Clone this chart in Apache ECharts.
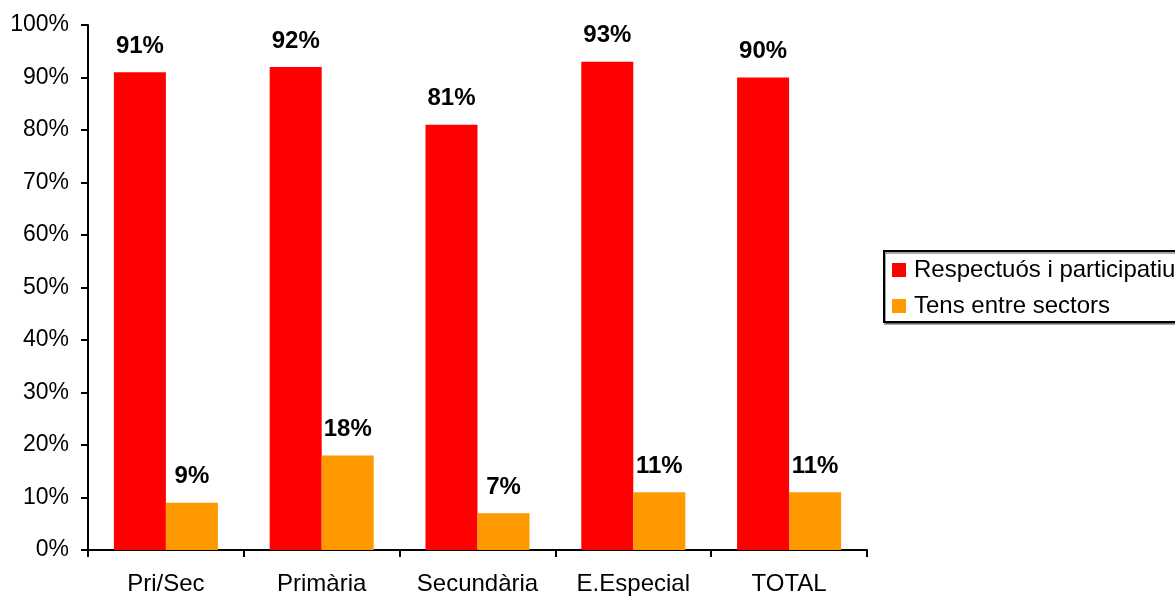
<!DOCTYPE html>
<html>
<head>
<meta charset="utf-8">
<script src="https://cdn.jsdelivr.net/npm/echarts@6/dist/echarts.min.js"></script>
<style>
html,body{margin:0;padding:0;background:#fff;}
#chart{width:1175px;height:596px;}
</style>
</head>
<body>
<div id="chart"></div>
<script>
var categories = ['Pri/Sec', 'Primària', 'Secundària', 'E.Especial', 'TOTAL'];
var seriesNames = ['Respectuós i participatiu', 'Tens entre sectors'];
var respectuos = [91, 92, 81, 93, 90];
var tens = [9, 18, 7, 11, 11];
var colors = ['#ff0000', '#ff9900'];

var chart = echarts.init(document.getElementById('chart'), null, {renderer: 'canvas'});
var font = 'Arial, "Liberation Sans", sans-serif';
function labelCfg() {
  return {
    show: true,
    position: 'top',
    distance: 14,
    formatter: '{c}%',
    color: '#000',
    fontFamily: font,
    fontWeight: 'bold',
    fontSize: 24
  };
}
chart.setOption({
  animation: false,
  backgroundColor: '#fff',
  grid: {left: 88, right: 308, top: 25, bottom: 45},
  legend: {
    orient: 'vertical',
    left: 884,
    top: 251,
    itemWidth: 14,
    itemHeight: 14,
    itemGap: 12,
    icon: 'rect',
    padding: [7, 30, 4, 8],
    borderColor: '#000',
    borderWidth: 2,
    borderRadius: 0,
    backgroundColor: '#fff',
    shadowColor: 'rgba(0,0,0,0.35)',
    shadowOffsetX: 1,
    shadowOffsetY: 2,
    shadowBlur: 0,
    textStyle: {color: '#000', fontFamily: font, fontSize: 24, lineHeight: 24, padding: [0, 0, 0, 3]},
    data: seriesNames
  },
  xAxis: {
    type: 'category',
    data: categories,
    axisLine: {lineStyle: {color: '#000', width: 2}},
    axisTick: {show: true, interval: 0, length: 7, inside: false, lineStyle: {color: '#000', width: 2}},
    axisLabel: {interval: 0, hideOverlap: false, color: '#000', fontFamily: font, fontSize: 24, margin: 22},
    splitLine: {show: false}
  },
  yAxis: {
    type: 'value',
    min: 0,
    max: 100,
    interval: 10,
    axisLine: {show: true, lineStyle: {color: '#000', width: 2}},
    axisTick: {show: true, length: 7, lineStyle: {color: '#000', width: 2}},
    axisLabel: {color: '#000', fontFamily: font, fontSize: 23, margin: 19, formatter: '{value}%'},
    splitLine: {show: false}
  },
  series: [
    {name: seriesNames[0], type: 'bar', data: respectuos, barWidth: 52, barGap: '0%',
     itemStyle: {color: colors[0]}, label: labelCfg()},
    {name: seriesNames[1], type: 'bar', data: tens, barWidth: 52, barGap: '0%',
     itemStyle: {color: colors[1]}, label: labelCfg()}
  ]
});
</script>
</body>
</html>
